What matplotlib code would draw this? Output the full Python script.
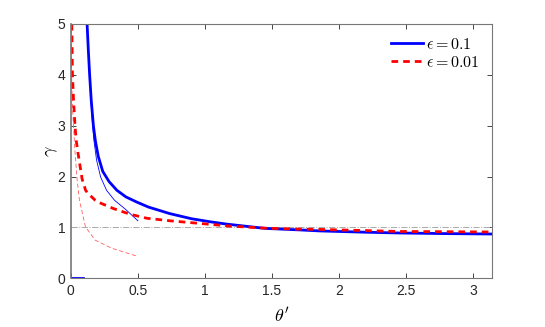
import numpy as np
import matplotlib.pyplot as plt

plt.rcParams['font.family'] = ['Liberation Sans', 'DejaVu Sans']
plt.rcParams['mathtext.fontset'] = 'cm'

# thick curves
theta_a = [0.121, 0.130, 0.140, 0.152, 0.168, 0.183, 0.204, 0.238, 0.285, 0.343, 0.41,
           0.49, 0.578, 0.739, 0.9, 1.04, 1.16, 1.45, 1.71, 1.86, 2.2, 2.45, 2.8, 3.1416]
gamma_a = [5.0, 4.5, 4.0, 3.5, 3.0, 2.7, 2.4, 2.1, 1.9, 1.73, 1.6,
           1.5, 1.4, 1.27, 1.17, 1.11, 1.065, 0.98, 0.95, 0.93, 0.905, 0.89, 0.878, 0.87]
theta_a0 = [0.0, 0.09]
gamma_a0 = [0.0, 0.0]

theta_b = [0.007, 0.012, 0.020, 0.031, 0.040, 0.054, 0.084, 0.11, 0.127, 0.181, 0.201,
           0.318, 0.44, 0.566, 0.739, 1.04, 1.16, 1.45, 1.71, 1.86, 2.45, 3.1416]
gamma_b = [5.0, 4.0, 3.5, 3.0, 2.71, 2.45, 1.95, 1.73, 1.67, 1.535, 1.50,
           1.37, 1.26, 1.18, 1.13, 1.06, 1.03, 0.985, 0.966, 0.96, 0.92, 0.91]

# thin approximations
theta_a_thin = [0.121, 0.139, 0.149, 0.162, 0.172, 0.192, 0.222, 0.266, 0.325, 0.41, 0.5]
gamma_a_thin = [5.0, 4.0, 3.5, 3.0, 2.71, 2.32, 1.99, 1.73, 1.535, 1.35, 1.13]

theta_b_thin = [0.003, 0.006, 0.010, 0.020, 0.032, 0.047, 0.064, 0.109, 0.181, 0.305, 0.487]
gamma_b_thin = [5.0, 4.0, 3.5, 2.97, 2.45, 1.93, 1.535, 1.01, 0.75, 0.59, 0.44]

fig = plt.figure(figsize=(5.45, 3.27), dpi=100)
ax = fig.add_axes([0.130, 0.149, 0.773, 0.778])

ax.plot([0, np.pi], [1, 1], '-.', color='#aaaaaa', lw=0.7)
ax.plot(theta_a_thin, gamma_a_thin, '-', color='blue', lw=0.6)
ax.plot(theta_b_thin, gamma_b_thin, '--', color='#ff6060', lw=0.6, dashes=(5, 3))
l1, = ax.plot(theta_a, gamma_a, '-', color='blue', lw=2)
ax.plot(theta_a0, gamma_a0, '-', color='blue', lw=2)
l2, = ax.plot(theta_b, gamma_b, '--', color='red', lw=2, dashes=(2.4, 1.8))

ax.set_xlim(0, np.pi)
ax.set_ylim(0, 5)
ax.set_xticks([0, 0.5, 1, 1.5, 2, 2.5, 3])
ax.set_xticklabels(['0', '0.5', '1', '1.5', '2', '2.5', '3'])
ax.set_yticks([0, 1, 2, 3, 4, 5])
ax.tick_params(direction='in', top=True, right=True, length=3.5, width=0.6,
               labelsize=10, colors='#262626', pad=4)
for s in ax.spines.values():
    s.set_color('#777777')
    s.set_linewidth(0.8)
ax.spines['left'].set_linewidth(1.2)

ax.set_xlabel(r"$\theta'$", fontsize=13, labelpad=6)
ax.set_ylabel(r"$\gamma$", fontsize=13, labelpad=-2)

ax.legend([l1, l2], [r'$\epsilon = 0.1$', r'$\epsilon = 0.01$'], loc='upper right',
          frameon=False, fontsize=11.5, handlelength=2.0, handletextpad=0.15,
          borderaxespad=0.4, labelspacing=0.2)

fig.savefig('out.png', dpi=100)
